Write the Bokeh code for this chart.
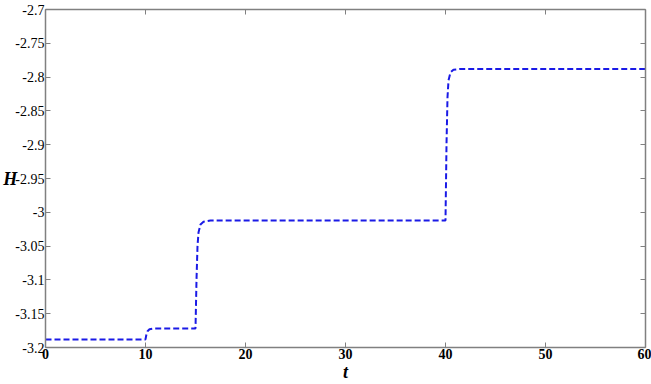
from bokeh.plotting import figure
from bokeh.models import LinearAxis, Range1d, FixedTicker
from bokeh.embed import file_html
from bokeh.resources import INLINE

# data
t = [0, 10, 10.1, 10.2, 10.4, 10.8, 15, 15.1, 15.2, 15.3, 15.5, 15.8, 16.5,
     40, 40.1, 40.2, 40.3, 40.5, 40.8, 41.5, 60]
H = [-3.188, -3.188, -3.180, -3.176, -3.173, -3.172, -3.172, -3.10, -3.05, -3.03,
     -3.018, -3.014, -3.012, -3.012, -2.90, -2.83, -2.805, -2.793, -2.789, -2.788, -2.788]
x_ticks = [0, 10, 20, 30, 40, 50, 60]
y_ticks = [-3.2, -3.15, -3.1, -3.05, -3.0, -2.95, -2.9, -2.85, -2.8, -2.75, -2.7]
y_tick_labels = {-3.2: "-3.2", -3.15: "-3.15", -3.1: "-3.1", -3.05: "-3.05", -3.0: "-3",
                 -2.95: "-2.95", -2.9: "-2.9", -2.85: "-2.85", -2.8: "-2.8", -2.75: "-2.75", -2.7: "-2.7"}

FONT = "Liberation Serif"
AX = "#808080"

p = figure(width=651, height=384, output_backend="svg", toolbar_location=None,
           x_range=Range1d(0, 60), y_range=Range1d(-3.2, -2.7),
           min_border_left=0, min_border_right=6, min_border_top=9, min_border_bottom=0,
           x_axis_location=None, y_axis_location=None)
p.background_fill_color = "white"
p.border_fill_color = "white"
p.outline_line_color = None
p.xgrid.visible = False
p.ygrid.visible = False

xb = LinearAxis(ticker=FixedTicker(ticks=x_ticks), axis_label="t")
yl = LinearAxis(ticker=FixedTicker(ticks=y_ticks), axis_label="H")
yl.major_label_overrides = y_tick_labels
xt = LinearAxis(ticker=FixedTicker(ticks=x_ticks))
yr = LinearAxis(ticker=FixedTicker(ticks=y_ticks))
xt.major_label_overrides = {v: "" for v in x_ticks}
yr.major_label_overrides = {v: "" for v in y_ticks}

for ax in (xb, yl, xt, yr):
    ax.axis_line_color = AX
    ax.axis_line_width = 1.5
    ax.major_tick_line_color = AX
    ax.major_tick_in = 5
    ax.major_tick_out = 0
    ax.minor_tick_line_color = None
    ax.major_label_text_font = FONT
    ax.major_label_text_font_style = "normal"
    ax.major_label_text_font_size = "14px"
    ax.major_label_text_color = "black"
    ax.axis_label_text_font = FONT
    ax.axis_label_text_font_style = "bold italic"
    ax.axis_label_text_font_size = "18px"
    ax.axis_label_text_color = "black"

for ax in (xt, yr):
    ax.major_label_standoff = 0

xb.major_label_text_font_style = "bold"
xb.major_label_standoff = 1
xb.axis_label_standoff = 0
yl.major_label_standoff = 1
yl.axis_label_standoff = -5
yl.axis_label_orientation = "horizontal"

p.add_layout(xb, "below")
p.add_layout(yl, "left")
p.add_layout(xt, "above")
p.add_layout(yr, "right")

p.line(t, H, line_color="#1a1ae6", line_width=2, line_dash="6 3")

open("out.html", "w").write(file_html(p, INLINE))
